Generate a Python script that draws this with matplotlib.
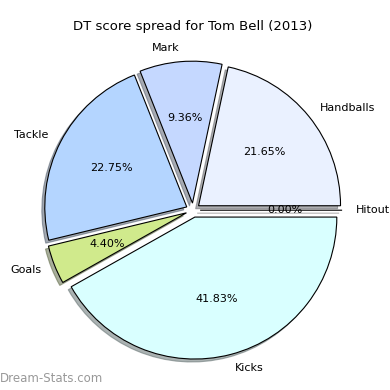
import matplotlib
matplotlib.use('Agg')
import matplotlib.pyplot as plt

# data
labels = ['Hitout', 'Handballs', 'Mark', 'Tackle', 'Goals', 'Kicks']
shares = [0.0, 21.65, 9.36, 22.75, 4.40, 41.83]
colors = ['#ffffff', '#eaf1ff', '#c5d8ff', '#b4d5ff', '#d0ea8c', '#d9ffff']

fig = plt.figure(figsize=(3.9, 3.9), dpi=100)
ax = fig.add_axes([0.04, 0.006, 0.91, 0.91])

ax.pie(shares, labels=labels, colors=colors, autopct='%1.2f%%',
       explode=[0.05] * len(shares),
       shadow={'ox': -0.015, 'oy': -0.015, 'shade': 0.6},
       startangle=0,
       wedgeprops={'edgecolor': 'black', 'linewidth': 0.8},
       textprops={'fontsize': 8})
ax.set_aspect('equal')
ax.set_title('DT score spread for Tom Bell (2013)', fontsize=9.5, pad=2)

fig.text(0.0, 0.012, 'Dream-Stats.com', fontsize=8.5, color='#999999',
         ha='left', va='bottom')

fig.savefig('out.png', dpi=100)
